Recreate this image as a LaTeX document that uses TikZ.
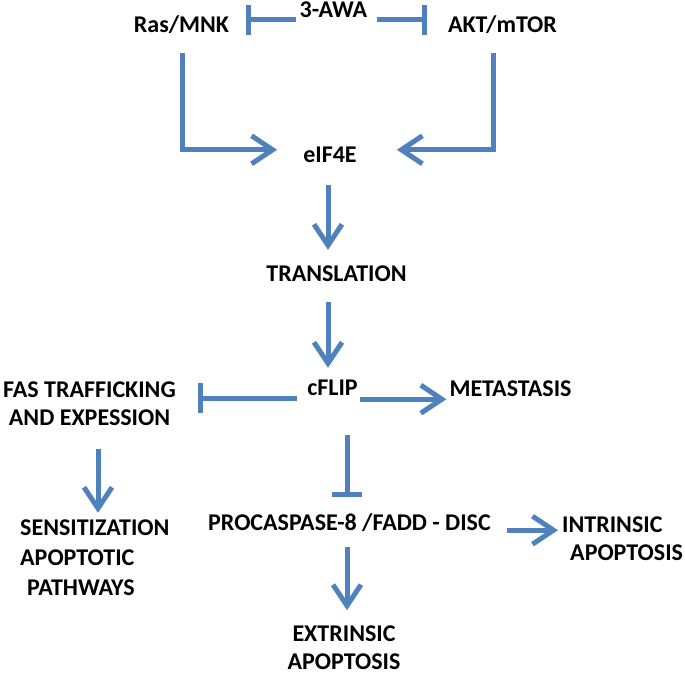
\documentclass[tikz,border=0pt]{standalone}
\usepackage{fontspec}
\setmainfont{Carlito}
\usetikzlibrary{arrows.meta,calc}
\definecolor{arrowblue}{HTML}{4F81BD}
\begin{document}
\begin{tikzpicture}[x=1pt,y=-1pt,
  lbl/.style={font=\fontsize{24}{28}\selectfont\bfseries, inner sep=0pt, text height=15pt, text depth=0pt, anchor=base},
  multi/.style={font=\fontsize{24}{28}\selectfont\bfseries, inner sep=0pt, anchor=base},
  arr/.style={draw=arrowblue, line width=5pt, -{Straight Barb[length=21pt,width=28pt,line width=5pt]}},
  inh/.style={draw=arrowblue, line width=5pt, -{Bar[width=30pt,line width=5pt]}}]
\useasboundingbox (0,0) rectangle (685,676);
% nodes
\node[lbl] (ras) at (181.5,33) {Ras/MNK};
\node[lbl, inner xsep=4pt] (awa) at (333.5,18) {3-AWA};
\node[lbl] (akt) at (502.5,33) {AKT/mTOR};
\node[lbl] (eif) at (330,163) {eIF4E};
\node[lbl] (trans) at (336.5,282) {TRANSLATION};
\node[lbl] (cflip) at (332.5,395) {cFLIP};
\node[lbl] (meta) at (510.5,396) {METASTASIS};
\node[multi] (fas) at (89.5,397) {\begin{tabular}[t]{@{}c@{}}FAS TRAFFICKING\\AND EXPESSION\end{tabular}};
\node[multi, font=\fontsize{24}{30}\selectfont\bfseries, anchor=base west] (sens) at (20,535) {\begin{tabular}[t]{@{}l@{}}SENSITIZATION\\APOPTOTIC\\\hspace*{7pt}PATHWAYS\end{tabular}};
\node[lbl] (proc) at (349.5,530) {PROCASPASE-8 /FADD - DISC};
\node[multi, anchor=base west] (intr) at (562,532) {\begin{tabular}[t]{@{}l@{}}INTRINSIC\\\hspace*{8pt}APOPTOSIS\end{tabular}};
\node[multi, align=center, text depth=0pt, anchor=south] (extr) at (344,670) {EXTRINSIC\\APOPTOSIS};
% inhibitions from 3-AWA
\coordinate (barL) at (246,20);
\coordinate (barR) at (427,20);
\draw[inh] (awa.west |- barL) -- (barL);
\draw[inh, shorten <=6pt] (awa.east |- barR) -- (barR);
% to eIF4E
\draw[arr] ([shift={(0.5,20)}]ras.south) |- ([shift={(-26,2)}]eif.north west);
\draw[arr] ([shift={(-9.5,20)}]akt.south) |- ([shift={(40,2)}]eif.north east);
% main chain
\draw[arr, shorten <=22pt, shorten >=17pt] ([xshift=-2pt]eif.south) -- ($(eif.south |- trans.north)+(-2,0)$);
\draw[arr, shorten <=20pt, shorten >=12pt] ($(trans.south -| cflip.north)+(-4.5,0)$) -- ($(cflip.north)+(-4.5,0)$);
% cFLIP connections
\draw[inh] ($(cflip.south west)+(-10,3)$) -- ($(cflip.south west -| fas.east)+(22,3)$);
\draw[arr] ($(cflip.south east)+(2,4)$) -- ($(cflip.south east -| meta.west)+(-3,4)$);
\draw[inh] ($(cflip.south)+(14.5,40)$) -- ($(cflip.south |- proc.north)+(14.5,-18)$);
% lower
\draw[arr] ($(fas.south)+(8.5,15)$) -- ($(fas.south |- sens.north)+(8.5,-1)$);
\draw[arr] ($(proc.south)+(-2.5,17)$) -- ($(proc.south)+(-2.5,80)$);
\draw[arr] ($(proc.south east)+(16,0)$) -- ($(proc.south east -| intr.west)+(-4,0)$);
\end{tikzpicture}
\end{document}
